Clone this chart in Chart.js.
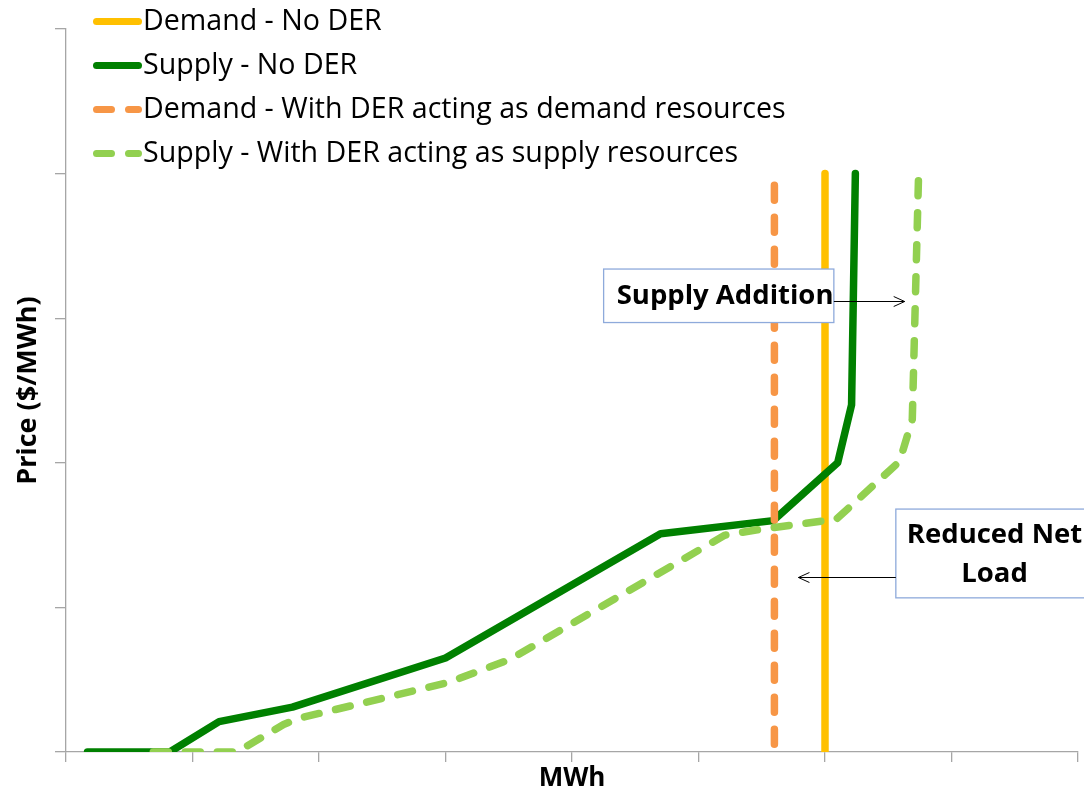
<!DOCTYPE html>
<html>
<head>
<meta charset="utf-8">
<title>Supply and demand with DER</title>
<script src="https://cdn.jsdelivr.net/npm/chart.js@4.4.1/dist/chart.umd.min.js"></script>
<style>
    html, body { margin: 0; padding: 0; background: #ffffff; }
    canvas { display: block; }
</style>
</head>
<body>
<canvas id="chart-der" width="1084" height="794"></canvas>
<script>
// curve data (x = MWh, y = price), unitless axes
var demandNoDerX = [6.0, 6.0];
var demandNoDerY = [0, 4.0];

var supplyNoDerX = [0.17, 0.82, 1.21, 1.79, 3.0, 4.70, 5.59, 6.10, 6.21, 6.24];
var supplyNoDerY = [0, 0, 0.21, 0.31, 0.65, 1.51, 1.60, 2.00, 2.40, 4.0];

var demandDerX = [5.6, 5.6];
var demandDerY = [3.92, 0];

var supplyDerX = [0.69, 1.35, 1.72, 1.85, 3.02, 3.51, 5.05, 5.21, 5.49, 6.09, 6.59, 6.69, 6.74];
var supplyDerY = [0, 0, 0.19, 0.235, 0.48, 0.64, 1.42, 1.50, 1.54, 1.61, 2.01, 2.30, 4.0];

var seriesLabels = [
    "Demand - No DER",
    "Supply - No DER",
    "Demand - With DER acting as demand resources",
    "Supply - With DER acting as supply resources"
];

var fontFamily = "'Open Sans', 'DejaVu Sans', sans-serif";
var axisGray = "#A6A6A6";

function toPoints(xs, ys) {
    var pts = [];
    for (var i = 0; i < xs.length; i++) {
        pts.push({x: xs[i], y: ys[i]});
    }
    return pts;
}

// text boxes with arrows, placed in data units
var callouts = [
    {
        lines: ["Supply Addition"],
        box: {left: 4.25, right: 6.07, top: 3.34, bottom: 2.97},
        textX: 5.21, textY: [3.15],
        arrow: {from: 6.07, to: 6.63, y: 3.12}
    },
    {
        lines: ["Reduced Net", "Load"],
        box: {left: 6.56, right: 8.3, top: 1.68, bottom: 1.066},
        textX: 7.34, textY: [1.50, 1.232],
        arrow: {from: 6.56, to: 5.79, y: 1.21}
    }
];

var calloutPlugin = {
    id: 'callouts',
    afterDatasetsDraw: function (chart) {
        var ctx = chart.ctx;
        var xs = chart.scales.x;
        var ys = chart.scales.y;
        ctx.save();
        callouts.forEach(function (c) {
            var l = xs.getPixelForValue(c.box.left);
            var r = xs.getPixelForValue(c.box.right);
            var t = ys.getPixelForValue(c.box.top);
            var b = ys.getPixelForValue(c.box.bottom);
            ctx.fillStyle = "#ffffff";
            ctx.fillRect(l, t, r - l, b - t);
            ctx.strokeStyle = "#8EAADB";
            ctx.lineWidth = 1.3;
            ctx.setLineDash([]);
            ctx.strokeRect(l, t, r - l, b - t);

            ctx.fillStyle = "#000000";
            ctx.font = "bold 27.5px " + fontFamily;
            ctx.textAlign = "center";
            ctx.textBaseline = "middle";
            var tx = xs.getPixelForValue(c.textX);
            c.lines.forEach(function (line, i) {
                ctx.fillText(line, tx, ys.getPixelForValue(c.textY[i]));
            });

            // arrow with an open head
            var x0 = xs.getPixelForValue(c.arrow.from);
            var x1 = xs.getPixelForValue(c.arrow.to);
            var ay = Math.round(ys.getPixelForValue(c.arrow.y)) + 0.5;
            var dir = x1 > x0 ? 1 : -1;
            ctx.strokeStyle = "#000000";
            ctx.lineWidth = 1;
            ctx.beginPath();
            ctx.moveTo(x0, ay);
            ctx.lineTo(x1, ay);
            ctx.moveTo(x1 - dir * 11, ay - 5);
            ctx.lineTo(x1, ay);
            ctx.lineTo(x1 - dir * 11, ay + 5);
            ctx.stroke();
        });
        ctx.restore();
    }
};

// legend drawn in the top-left corner, line samples butting up against the text
var legendPlugin = {
    id: 'sampleLegend',
    afterDraw: function (chart) {
        var ctx = chart.ctx;
        ctx.save();
        chart.data.datasets.forEach(function (ds, i) {
            var y = 21.5 + i * 44;
            ctx.strokeStyle = ds.borderColor;
            ctx.lineWidth = 7;
            ctx.lineCap = "round";
            ctx.setLineDash(ds.borderDash || []);
            ctx.beginPath();
            ctx.moveTo(96.5, y);
            ctx.lineTo(138.5, y);
            ctx.stroke();
            ctx.setLineDash([]);
            ctx.fillStyle = "#000000";
            ctx.font = "28.6px " + fontFamily;
            ctx.textAlign = "left";
            ctx.textBaseline = "middle";
            ctx.fillText(ds.label, 143, y);
        });
        ctx.restore();
    }
};

function lineSet(label, xs, ys, color, dash, order) {
    return {
        label: label,
        data: toPoints(xs, ys),
        borderColor: color,
        backgroundColor: color,
        borderWidth: 7.5,
        borderDash: dash,
        borderCapStyle: 'round',
        borderJoinStyle: 'round',
        pointRadius: 0,
        pointHoverRadius: 0,
        fill: false,
        tension: 0,
        order: order
    };
}

var ctx = document.getElementById('chart-der');
var derChart = new Chart(ctx, {
    type: 'line',
    data: {
        datasets: [
            lineSet(seriesLabels[0], demandNoDerX, demandNoDerY, "#FFC000", [], 4),
            lineSet(seriesLabels[1], supplyNoDerX, supplyNoDerY, "#008000", [], 3),
            lineSet(seriesLabels[2], demandDerX, demandDerY, "#F79646", [15, 17], 2),
            lineSet(seriesLabels[3], supplyDerX, supplyDerY, "#92D050", [15, 17], 1)
        ]
    },
    options: {
        responsive: false,
        animation: false,
        layout: {
            padding: {left: 0, right: 6, top: 29, bottom: 0}
        },
        plugins: {
            legend: {display: false},
            tooltip: {enabled: false}
        },
        scales: {
            x: {
                type: 'linear',
                min: 0,
                max: 8,
                ticks: {display: false, stepSize: 1},
                grid: {drawOnChartArea: false, drawTicks: true, tickLength: 10, color: axisGray, lineWidth: 1.3},
                border: {color: axisGray, width: 1.3},
                title: {
                    display: true,
                    text: 'MWh',
                    color: '#000000',
                    font: {family: fontFamily, size: 26, weight: 'bold'},
                    padding: {top: 0.8, bottom: 0}
                }
            },
            y: {
                type: 'linear',
                min: 0,
                max: 5,
                ticks: {display: false, stepSize: 1},
                grid: {drawOnChartArea: false, drawTicks: true, tickLength: 11, color: axisGray, lineWidth: 1.3},
                border: {color: axisGray, width: 1.3},
                title: {
                    display: true,
                    text: 'Price ($/MWh)',
                    color: '#000000',
                    font: {family: fontFamily, size: 27, weight: 'bold'},
                    padding: {top: 11.8, bottom: 10.8}
                }
            }
        }
    },
    plugins: [calloutPlugin, legendPlugin]
});
</script>
</body>
</html>
